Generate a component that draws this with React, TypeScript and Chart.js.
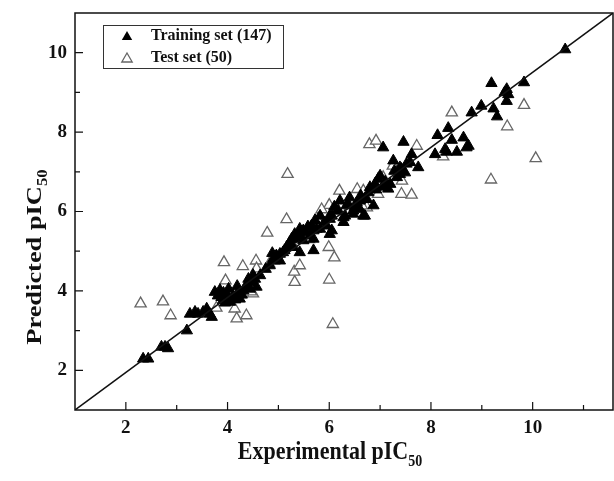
import React, { useEffect, useRef } from 'react';
import { Chart, registerables } from 'chart.js';

Chart.register(...registerables);

// ---------- data ----------
const trainingLabel = 'Training set (147)';
const testLabel = 'Test set (50)';
const xTitle = 'Experimental pIC';
const yTitle = 'Predicted pIC';
const titleSub = '50';

const xTickValues = [2, 4, 6, 8, 10];
const yTickValues = [2, 4, 6, 8, 10];
const xMinorTicks = [3, 5, 7, 9, 11];
const yMinorTicks = [3, 5, 7, 9];

const xRange = [1, 11.58];
const yRange = [1, 11];

// reference diagonal line (drawn corner to corner of plot box)
const lineX = [1, 11.58];
const lineY = [1, 11];

const trainingPoints: [number, number][] = [
  [2.34, 2.29], [2.44, 2.29], [2.70, 2.59], [2.77, 2.59], [2.83, 2.55], [3.20, 3.00],
  [3.26, 3.42], [3.36, 3.47], [3.42, 3.42], [3.52, 3.47], [3.59, 3.55], [3.65, 3.42], [3.69, 3.34],
  [3.75, 3.97], [3.81, 3.88], [3.88, 3.84], [3.98, 3.92], [3.91, 3.76], [4.05, 3.72], [4.11, 3.88],
  [4.21, 3.97], [4.24, 3.80], [4.31, 4.01], [4.37, 4.14], [4.41, 4.30], [4.47, 4.22], [4.54, 4.30],
  [4.57, 4.10], [4.44, 4.05], [4.64, 4.39], [3.85, 4.02], [4.00, 3.85], [4.15, 3.78], [3.95, 3.70],
  [4.83, 4.64], [4.90, 4.81], [4.96, 4.89], [5.03, 4.76], [5.09, 4.97], [5.16, 5.10], [5.29, 5.31],
  [5.36, 5.39], [4.93, 4.76], [5.03, 4.93], [5.29, 5.10], [5.42, 4.97], [5.19, 5.14], [5.26, 5.31],
  [5.33, 5.35], [4.75, 4.55], [4.88, 4.95],
  [5.42, 5.39], [5.49, 5.52], [5.62, 5.39], [5.69, 5.52], [5.82, 5.56], [5.95, 5.64], [6.05, 5.52],
  [6.01, 5.89], [5.69, 5.02], [5.42, 5.56], [5.55, 5.48], [5.65, 5.64], [5.75, 5.56], [5.49, 5.27],
  [5.69, 5.31], [6.01, 5.43], [5.82, 5.89], [6.01, 5.81], [6.05, 5.89], [5.32, 5.43],
  [6.15, 6.02], [6.28, 5.85], [6.47, 5.94], [6.67, 5.89], [6.74, 6.31], [6.60, 6.27], [6.50, 6.10],
  [6.37, 6.19], [6.21, 6.27], [6.28, 5.73], [6.31, 5.89], [6.47, 6.02], [6.70, 5.89], [6.54, 6.23],
  [6.34, 6.15], [6.18, 6.02], [6.60, 6.06], [6.87, 6.15], [6.70, 6.31], [6.77, 6.48], [6.80, 6.61],
  [6.96, 6.82], [7.00, 6.90], [7.16, 6.57], [7.20, 6.69], [7.33, 6.86], [7.39, 6.94], [7.49, 6.98],
  [7.42, 7.07], [7.39, 7.11], [7.59, 7.24], [7.75, 7.11], [7.26, 7.28], [7.62, 7.44], [7.06, 7.61],
  [7.46, 7.75], [7.10, 6.75], [7.05, 6.62], [6.90, 6.70],
  [8.08, 7.44], [8.31, 7.50], [8.51, 7.50], [8.28, 7.57], [8.70, 7.61], [8.41, 7.80], [8.64, 7.86],
  [8.13, 7.92], [8.34, 8.10], [8.74, 7.65], [8.80, 8.49], [8.99, 8.66], [9.23, 8.59], [9.30, 8.39],
  [9.19, 9.23], [9.49, 9.08], [9.52, 8.95], [9.49, 8.78], [9.83, 9.25], [10.64, 10.08], [9.45, 9.00],
  [4.02, 4.05], [4.19, 4.12], [4.28, 3.90], [4.50, 4.40], [5.12, 5.02], [5.22, 5.22], [5.58, 5.62],
  [5.72, 5.78], [5.90, 5.72], [6.10, 6.12], [6.40, 6.35], [6.62, 6.40], [6.92, 6.55], [7.28, 7.02],
  [7.52, 7.20], [3.92, 3.95],
];

const testPoints: [number, number][] = [
  [2.29, 3.68], [2.73, 3.73], [2.88, 3.38], [3.78, 3.57], [3.93, 4.72], [3.96, 4.26], [4.14, 3.55],
  [4.18, 3.30], [4.37, 3.38], [4.50, 3.93], [4.56, 4.76], [4.57, 4.56], [4.82, 4.68], [4.78, 5.46],
  [5.32, 4.22], [5.31, 4.48], [5.42, 4.64], [5.16, 5.80], [5.18, 6.94], [5.29, 5.14], [5.78, 5.77],
  [6.00, 6.16], [5.99, 5.10], [6.00, 4.28], [6.10, 4.84], [6.07, 3.16], [6.20, 6.52], [6.55, 6.56],
  [6.74, 6.10], [6.64, 6.15], [6.79, 7.69], [6.92, 7.78], [7.72, 7.65], [7.06, 6.86], [7.43, 6.77],
  [6.96, 6.44], [7.42, 6.44], [7.62, 6.42], [8.24, 7.38], [8.41, 8.49], [9.18, 6.80], [9.50, 8.14],
  [9.83, 8.68], [10.06, 7.34], [4.46, 3.98], [6.67, 6.52], [5.85, 6.05], [7.25, 7.15], [4.30, 4.62],
  [5.60, 5.30],
];

// ---------- styling ----------
const FONT = '"Liberation Serif", "Times New Roman", serif';

function triPath(ctx: CanvasRenderingContext2D, x: number, y: number, r: number) {
  ctx.beginPath();
  ctx.moveTo(x, y - r);
  ctx.lineTo(x + 0.866 * r, y + 0.5 * r);
  ctx.lineTo(x - 0.866 * r, y + 0.5 * r);
  ctx.closePath();
}

const decorPlugin = {
  id: 'decor',
  afterDraw(chart: any) {
    const ctx: CanvasRenderingContext2D = chart.ctx;
    const { left, right, top, bottom } = chart.chartArea;
    const xs = chart.scales.x;
    const ys = chart.scales.y;
    ctx.save();
    // frame
    ctx.strokeStyle = '#111';
    ctx.lineWidth = 1.5;
    ctx.strokeRect(left, top, right - left, bottom - top);
    // inside ticks
    ctx.lineWidth = 1.2;
    ctx.beginPath();
    xTickValues.forEach((v) => {
      const px = xs.getPixelForValue(v);
      ctx.moveTo(px, bottom);
      ctx.lineTo(px, bottom - 8);
    });
    xMinorTicks.forEach((v) => {
      const px = xs.getPixelForValue(v);
      if (px < right - 1) {
        ctx.moveTo(px, bottom);
        ctx.lineTo(px, bottom - 5);
      }
    });
    yTickValues.forEach((v) => {
      const py = ys.getPixelForValue(v);
      ctx.moveTo(left, py);
      ctx.lineTo(left + 8, py);
    });
    yMinorTicks.forEach((v) => {
      const py = ys.getPixelForValue(v);
      ctx.moveTo(left, py);
      ctx.lineTo(left + 5, py);
    });
    ctx.stroke();

    // axis titles with subscript
    ctx.fillStyle = '#111';
    ctx.textBaseline = 'alphabetic';
    ctx.textAlign = 'left';
    const mainFont = `bold 22px ${FONT}`;
    const subFont = `bold 14px ${FONT}`;
    ctx.font = mainFont;
    const wx = ctx.measureText(xTitle).width;
    ctx.font = subFont;
    const wsub = ctx.measureText(titleSub).width;

    ctx.save();
    ctx.translate(330, 459);
    ctx.scale(1, 1.12);
    const xStart = -(wx + wsub) / 2;
    ctx.font = mainFont;
    ctx.fillText(xTitle, xStart, 0);
    ctx.font = subFont;
    ctx.fillText(titleSub, xStart + wx, 6);
    ctx.restore();

    ctx.save();
    ctx.translate(41, 257);
    ctx.rotate(-Math.PI / 2);
    ctx.scale(1.2, 1);
    ctx.font = mainFont;
    const wy = ctx.measureText(yTitle).width;
    const yStart = -(wy + wsub) / 2;
    ctx.fillText(yTitle, yStart, 0);
    ctx.font = subFont;
    ctx.fillText(titleSub, yStart + wy, 6);
    ctx.restore();

    // legend
    ctx.strokeStyle = '#333';
    ctx.lineWidth = 1;
    ctx.strokeRect(103.5, 25.5, 180, 43);
    ctx.fillStyle = '#000';
    triPath(ctx, 127, 37, 6);
    ctx.fill();
    ctx.strokeStyle = '#666';
    ctx.lineWidth = 1.3;
    ctx.fillStyle = '#fff';
    triPath(ctx, 127, 59, 6);
    ctx.fill();
    ctx.stroke();
    ctx.fillStyle = '#111';
    ctx.font = `bold 16px ${FONT}`;
    ctx.textBaseline = 'middle';
    ctx.fillText(trainingLabel, 151, 36);
    ctx.fillText(testLabel, 151, 58);
    ctx.restore();
  },
};

export default function App() {
  const ref = useRef<HTMLCanvasElement | null>(null);
  useEffect(() => {
    if (!ref.current) return;
    const chart = new Chart(ref.current, {
      type: 'scatter',
      data: {
        datasets: [
          {
            type: 'line',
            label: 'fit',
            data: lineX.map((x, i) => ({ x, y: lineY[i] })),
            borderColor: '#111',
            borderWidth: 1.5,
            pointRadius: 0,
            showLine: true,
            order: 0,
          } as any,
          {
            label: trainingLabel,
            data: trainingPoints.map(([x, y]) => ({ x, y })),
            pointStyle: 'triangle',
            pointRadius: 6.5,
            backgroundColor: '#000',
            borderColor: '#000',
            borderWidth: 1,
            order: 1,
          },
          {
            label: testLabel,
            data: testPoints.map(([x, y]) => ({ x, y })),
            pointStyle: 'triangle',
            pointRadius: 6.5,
            backgroundColor: '#fff',
            borderColor: '#666',
            borderWidth: 1.3,
            order: 2,
          },
        ],
      },
      options: {
        responsive: false,
        animation: false,
        devicePixelRatio: 1,
        layout: { autoPadding: false, padding: { left: 0, right: 1, top: 13, bottom: 0 } },
        plugins: { legend: { display: false }, tooltip: { enabled: false } },
        scales: {
          x: {
            type: 'linear',
            min: xRange[0],
            max: xRange[1],
            grid: { display: false, drawTicks: false },
            border: { display: false },
            afterBuildTicks: (s: any) => {
              s.ticks = xTickValues.map((v) => ({ value: v }));
            },
            afterFit: (s: any) => {
              s.height = 71;
              s.paddingLeft = 0;
              s.paddingRight = 0;
              s.paddingTop = 0;
              s.paddingBottom = 0;
            },
            ticks: {
              padding: 7,
              color: '#111',
              font: { family: FONT, size: 19, weight: 'bold' },
              maxRotation: 0,
            },
          },
          y: {
            type: 'linear',
            min: yRange[0],
            max: yRange[1],
            grid: { display: false, drawTicks: false },
            border: { display: false },
            afterBuildTicks: (s: any) => {
              s.ticks = yTickValues.map((v) => ({ value: v }));
            },
            afterFit: (s: any) => {
              s.width = 75;
              s.paddingLeft = 0;
              s.paddingRight = 0;
              s.paddingTop = 0;
              s.paddingBottom = 0;
            },
            ticks: {
              padding: 8,
              color: '#111',
              font: { family: FONT, size: 19, weight: 'bold' },
            },
          },
        },
      },
      plugins: [decorPlugin],
    });
    return () => chart.destroy();
  }, []);
  return (
    <div style={{ position: 'absolute', left: 0, top: 0, width: 614, height: 481, background: '#fff' }}>
      <canvas ref={ref} width={614} height={481} style={{ display: 'block' }} />
    </div>
  );
}
